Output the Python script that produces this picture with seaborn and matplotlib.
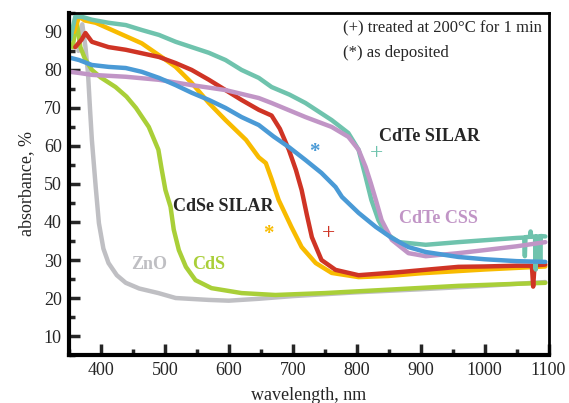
import numpy as np
import pandas as pd
import seaborn as sns
import matplotlib.pyplot as plt
from matplotlib.ticker import MultipleLocator

# ZnO
zno_wl = [365, 371, 376, 380, 383, 386, 392, 397, 404, 412, 425, 439, 460, 490, 517, 569,
          600, 647, 700, 800, 900, 1000, 1095]
zno_ab = [85, 92, 86, 79, 70, 61.6, 49.2, 39.7, 33, 29.2, 26, 24, 22.5, 21.3, 20, 19.5,
          19.3, 19.8, 20.5, 21.5, 22.3, 23.2, 24.2]

# CdS
cds_wl = [356, 362, 368, 375, 386, 400, 423, 440, 455, 475, 490, 495, 501, 509, 514, 522,
          533, 548, 573, 620, 673, 750, 850, 959, 1095]
cds_ab = [86, 93, 86, 83, 80, 78, 75.5, 73, 70, 65, 59, 54, 48.4, 44, 38, 32.6,
          28.2, 24.7, 22.6, 21.3, 20.8, 21.3, 22.2, 23.2, 24]

# CdSe SILAR, as deposited (*)
cdse_dep_wl = [358, 366, 375, 392, 428, 464, 495, 517, 542, 569, 595, 627, 647, 658, 667,
               678, 698, 714, 736, 761, 803, 850, 900, 1000, 1095]
cdse_dep_ab = [90, 94, 93, 92.4, 89.7, 87, 83.4, 80.8, 76.6, 71.3, 66.8, 61.6, 57, 55.5, 51.3,
               45.8, 38.7, 33.4, 29.2, 26.6, 25.5, 25.8, 26.5, 27.5, 28.3]

# CdSe SILAR, treated (+)
cdse_tr_wl = [360, 370, 376, 386, 412, 439, 491, 517, 542, 569, 595, 620, 647, 667, 680,
              694, 705, 714, 722, 730, 745, 767, 803, 866, 959, 1000, 1050, 1074, 1076,
              1078, 1080, 1095]
cdse_tr_ab = [86, 88, 89.7, 87.4, 86, 85.3, 83.4, 81.8, 80, 77.4, 74.7, 72.1, 69.5, 68, 64.5,
              59, 53.7, 48.4, 42, 36, 30, 27.4, 26, 26.8, 28.2, 28.3, 28.5, 28.5, 23,
              28.2, 28.6, 28.8]

# CdTe SILAR, as deposited (*)
cdte_dep_wl = [352, 366, 386, 412, 439, 464, 491, 517, 542, 569, 595, 620, 647, 670, 694,
               720, 745, 767, 777, 803, 830, 855, 881, 908, 959, 1000, 1050, 1095]
cdte_dep_ab = [83.2, 82.6, 81.3, 80.8, 80.5, 79.5, 77.9, 76, 74, 72.1, 70, 67.6, 65.5, 62.5, 59.7,
               56.3, 52.9, 49.2, 46.6, 42.4, 38.7, 35.8, 33.4, 32.1, 30.8, 30.2, 29.7, 29.5]

# CdTe SILAR, treated (+)
cdte_tr_wl = [352, 360, 370, 386, 412, 439, 464, 491, 517, 542, 569, 595, 620, 647, 667,
              695, 720, 761, 787, 803, 814, 823, 834, 845, 866, 908, 959, 1000, 1050,
              1062, 1063, 1064, 1071, 1072, 1073, 1079, 1080, 1081, 1086, 1087, 1088, 1095]
cdte_tr_ab = [88, 94, 94, 93.2, 92.4, 91.8, 90.5, 89.2, 87.4, 86, 84.5, 82.6, 80, 77.9, 75.5,
              73.5, 71.3, 66.8, 63.4, 59, 51.9, 45.8, 40.5, 37.1, 34.7, 34, 34.7, 35.2, 35.8,
              35.9, 31, 36, 36.1, 37.5, 36.1, 36.2, 27.5, 36.2, 36.2, 30, 36.3, 36.2]

# CdTe CSS
cdte_css_wl = [352, 366, 386, 439, 491, 542, 595, 647, 667, 720, 761, 787, 803, 814, 822,
               830, 839, 855, 881, 908, 959, 1000, 1050, 1095]
cdte_css_ab = [79.5, 79.2, 78.7, 78.2, 77.4, 76, 74.7, 72.6, 71.3, 67.6, 65, 62.4, 59, 54.5, 50.3,
               45.8, 40.5, 35.3, 31.8, 31, 31.8, 32.6, 33.6, 34.7]

series = [
    ('ZnO', zno_wl, zno_ab, '#bfbfc3'),
    ('CdS', cds_wl, cds_ab, '#a9cf38'),
    ('CdSe dep', cdse_dep_wl, cdse_dep_ab, '#f8bb00'),
    ('CdSe tr', cdse_tr_wl, cdse_tr_ab, '#cf3425'),
    ('CdTe tr', cdte_tr_wl, cdte_tr_ab, '#6fc3ad'),
    ('CdTe CSS', cdte_css_wl, cdte_css_ab, '#c195c6'),
    ('CdTe dep', cdte_dep_wl, cdte_dep_ab, '#4a9ad6'),
]

sns.set_style('ticks')
plt.rcParams['font.family'] = ['Liberation Serif', 'DejaVu Serif']

fig = plt.figure(figsize=(5.69, 4.03), dpi=100)
ax = fig.add_axes([0.121, 0.119, 0.843, 0.849])

for name, wl, ab, col in series:
    sns.lineplot(x=wl, y=ab, color=col, lw=3.2, ax=ax, sort=False, estimator=None)

ax.set_xlim(350, 1100)
ax.set_ylim(5, 95)
ax.xaxis.set_major_locator(MultipleLocator(100))
ax.xaxis.set_minor_locator(MultipleLocator(50))
ax.yaxis.set_major_locator(MultipleLocator(10))
ax.yaxis.set_minor_locator(MultipleLocator(5))
ax.set_xticks([400, 500, 600, 700, 800, 900, 1000, 1100])
ax.set_yticks([10, 20, 30, 40, 50, 60, 70, 80, 90])
ax.tick_params(which='major', direction='in', length=8, width=2.5, labelsize=13,
               top=False, right=False, pad=5)
ax.tick_params(which='minor', direction='in', length=4, width=2.5, top=False, right=False)
for sp in ax.spines.values():
    sp.set_linewidth(2)
    sp.set_color('black')
ax.spines['left'].set_linewidth(3)
ax.spines['bottom'].set_linewidth(3)

ax.set_xlabel('wavelength, nm', fontsize=13, labelpad=6)
ax.set_ylabel('absorbance, %', fontsize=13, labelpad=6)

# markers
ax.text(734, 58.4, '*', color='#4a9ad6', fontsize=15, ha='center', va='center', fontweight='bold')
ax.text(662, 36.8, '*', color='#f8bb00', fontsize=15, ha='center', va='center', fontweight='bold')
ax.text(756, 37.0, '+', color='#cf3425', fontsize=17, ha='center', va='center')
ax.text(831, 57.9, '+', color='#6fc3ad', fontsize=17, ha='center', va='center')

# notes and labels
ax.text(778, 91.3, '(+) treated at 200°C for 1 min', fontsize=12, ha='left', va='center')
ax.text(778, 84.5, '(*) as deposited', fontsize=12, ha='left', va='center')
ax.text(914, 62.6, 'CdTe SILAR', fontsize=13, fontweight='bold', ha='center', va='center')
ax.text(592, 44.0, 'CdSe SILAR', fontsize=13, fontweight='bold', ha='center', va='center')
ax.text(928, 40.8, 'CdTe CSS', fontsize=13, fontweight='bold', ha='center', va='center',
        color='#c195c6')
ax.text(475, 28.7, 'ZnO', fontsize=13, fontweight='bold', ha='center', va='center',
        color='#bfbfc3')
ax.text(569, 28.7, 'CdS', fontsize=13, fontweight='bold', ha='center', va='center',
        color='#a9cf38')

fig.savefig('out.png', dpi=100)
